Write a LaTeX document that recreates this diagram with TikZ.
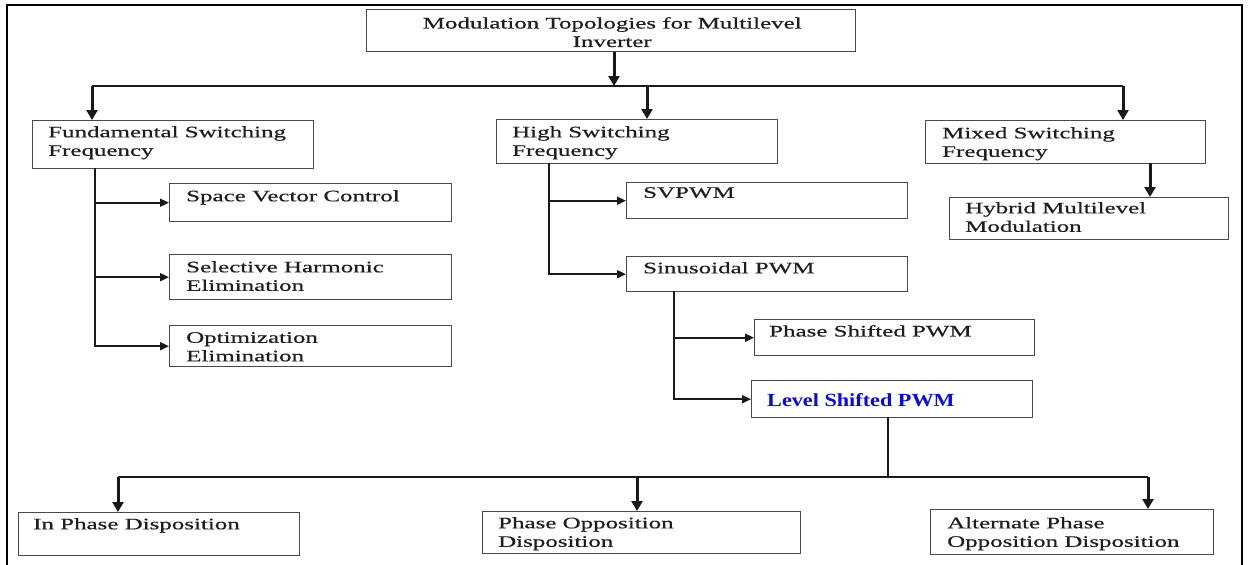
\documentclass[tikz,border=0pt]{standalone}
\usepackage{fontspec}
\setmainfont{Liberation Serif}[FakeStretch=1.56,FakeBold=0.6]
\newfontfamily\lvlfont{Liberation Serif}[FakeStretch=1.2]
\usetikzlibrary{arrows.meta}
\definecolor{boxgray}{HTML}{4A4A4A}
\definecolor{txtgray}{HTML}{1E1E1E}
\definecolor{lvlblue}{HTML}{0A0ADC}

\begin{document}
\begin{tikzpicture}[x=1pt,y=-1pt,
  box/.style={draw=boxgray,line width=1.4pt,inner sep=0pt,anchor=north west},
  lbl/.style={anchor=north west,inner sep=0pt,align=left,text=txtgray,
    font=\fontsize{16}{18.5}\selectfont},
  bus/.style={line width=1.4pt,draw=black!90},
  side/.style={-{Triangle[length=9pt,width=8pt]},line width=1.8pt,draw=black!90},
  down/.style={-{Triangle[length=10pt,width=11pt]},line width=3pt,draw=black!90}]
  \useasboundingbox (0,0) rectangle (1248,565);
  \draw[line width=1.4pt] (7,565) -- (7,5) -- (1242,5) -- (1242,565);
%top
  \node[box,minimum width=489pt,minimum height=42pt] (top) at (366,9) {};
  \node[lbl,anchor=north,align=center] (topt) at ([shift={(1,8)}]top.north)
    {Modulation Topologies for Multilevel\\Inverter};
%fundamental
  \node[box,minimum width=281pt,minimum height=48pt] (fund) at (32,120) {};
  \node[lbl] (fundt) at ([shift={(16,6)}]fund.north west) {Fundamental Switching\\Frequency};
  \node[box,minimum width=282pt,minimum height=38pt] (svc) at (169,183) {};
  \node[lbl] (svct) at ([shift={(17,7)}]svc.north west) {Space Vector Control};
  \node[box,minimum width=282pt,minimum height=45pt] (she) at (169,254) {};
  \node[lbl] (shet) at ([shift={(17,7)}]she.north west) {Selective Harmonic\\Elimination};
  \node[box,minimum width=282pt,minimum height=41pt] (oe) at (169,325) {};
  \node[lbl] (oet) at ([shift={(17,7)}]oe.north west) {Optimization\\Elimination};
%high
  \node[box,minimum width=281pt,minimum height=44pt] (high) at (496,119) {};
  \node[lbl] (hight) at ([shift={(16,7)}]high.north west) {High Switching\\Frequency};
  \node[box,minimum width=281pt,minimum height=36pt] (svp) at (626,182) {};
  \node[lbl] (svpt) at ([shift={(17,5)}]svp.north west) {SVPWM};
  \node[box,minimum width=281pt,minimum height=35pt] (spw) at (626,256) {};
  \node[lbl] (spwt) at ([shift={(17,6)}]spw.north west) {Sinusoidal PWM};
  \node[box,minimum width=280pt,minimum height=36pt] (psp) at (754,319) {};
  \node[lbl] (pspt) at ([shift={(15,6)}]psp.north west) {Phase Shifted PWM};
  \node[box,minimum width=281pt,minimum height=37pt] (lsp) at (751,380) {};
  \node[lbl,text=lvlblue,font=\lvlfont\bfseries\fontsize{18.5}{20}\selectfont] (lspt)
    at ([shift={(16,13)}]lsp.north west) {Level Shifted PWM};
%mixed
  \node[box,minimum width=280pt,minimum height=43pt] (mixed) at (925,120) {};
  \node[lbl] (mixedt) at ([shift={(17,7)}]mixed.north west) {Mixed Switching\\Frequency};
  \node[box,minimum width=279pt,minimum height=42pt] (hyb) at (949,197) {};
  \node[lbl] (hybt) at ([shift={(16,5)}]hyb.north west) {Hybrid Multilevel\\Modulation};
%bottom row
  \node[box,minimum width=281pt,minimum height=43pt] (ipd) at (18,512) {};
  \node[lbl] (ipdt) at ([shift={(15,6)}]ipd.north west) {In Phase Disposition};
  \node[box,minimum width=318pt,minimum height=42pt] (pod) at (482,511) {};
  \node[lbl] (podt) at ([shift={(16,6)}]pod.north west) {Phase Opposition\\Disposition};
  \node[box,minimum width=283pt,minimum height=45pt] (apod) at (930,509) {};
  \node[lbl] (apodt) at ([shift={(17,8)}]apod.north west) {Alternate Phase\\Opposition Disposition};
%paths
  \coordinate (tj) at (614,86);
  \coordinate (bl) at (92,86);
  \coordinate (bh) at (647,86);
  \coordinate (br) at (1123,86);
  \draw[down] (top.south -| tj) -- (tj);
  \draw[bus] (bl) -- (br);
  \draw[down] (bl) -- (bl |- fund.north);
  \draw[down] (bh) -- (bh |- high.north);
  \draw[down] (br) -- (br |- mixed.north);
  \coordinate (fj) at (95,168);
  \draw[side] (fj) |- (svc.west);
  \draw[side] (fj) |- (she.west);
  \draw[side] (fj) |- (oe.west);
  \coordinate (hj) at (549,163);
  \draw[side] (hj) |- (svp.west);
  \draw[side] (hj) |- (spw.west);
  \coordinate (sj) at (674,291);
  \draw[side] (sj) |- (psp.west);
  \draw[side] (sj) |- (lsp.west);
  \coordinate (mj) at (1150,163);
  \draw[down] (mj) -- (mj |- hyb.north);
  \coordinate (lj) at (888,417);
  \coordinate (lb) at (888,477);
  \coordinate (ql) at (118,477);
  \coordinate (qm) at (637,477);
  \coordinate (qr) at (1148,477);
  \draw[bus] (lj) -- (lb);
  \draw[bus] (ql) -- (qr);
  \draw[down] (ql) -- (ql |- ipd.north);
  \draw[down] (qm) -- (qm |- pod.north);
  \draw[down] (qr) -- (qr |- apod.north);
\end{tikzpicture}
\end{document}
